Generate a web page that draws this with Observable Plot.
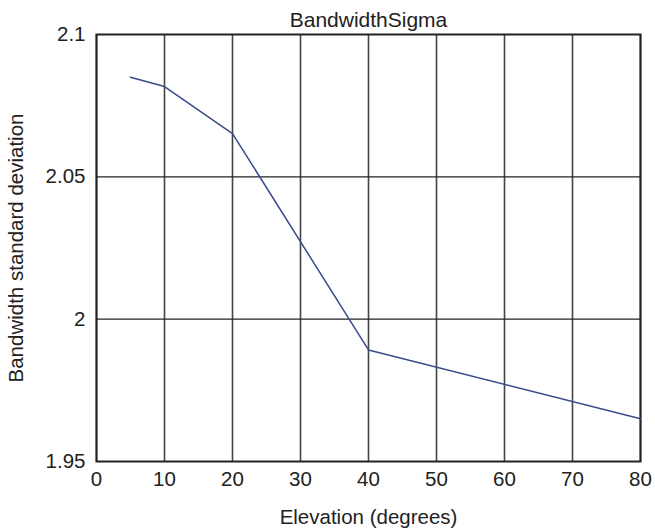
<!DOCTYPE html>
<html>
<head>
<meta charset="utf-8">
<script src="https://cdn.jsdelivr.net/npm/d3@7"></script>
<script src="https://cdn.jsdelivr.net/npm/@observablehq/plot@0.6"></script>
<style>
  html, body { margin: 0; padding: 0; background: #fff; }
</style>
</head>
<body>
<div id="chart"></div>
<script>
const title = "BandwidthSigma";
const xLabel = "Elevation (degrees)";
const yLabel = "Bandwidth standard deviation";
const elevation = [5, 10, 20, 40, 80];
const sigma = [2.085, 2.0817, 2.0652, 1.9892, 1.965];
const xTicks = [0, 10, 20, 30, 40, 50, 60, 70, 80];
const yTicks = [1.95, 2, 2.05, 2.1];
const yTickLabels = ["1.95", "2", "2.05", "2.1"];

const data = elevation.map((e, i) => ({elevation: e, sigma: sigma[i]}));
const yFmt = d => yTickLabels[yTicks.indexOf(d)];

const chart = Plot.plot({
  width: 655,
  height: 532,
  marginLeft: 96,
  marginRight: 15,
  marginTop: 34,
  marginBottom: 71,
  style: {fontFamily: "'Liberation Sans', Arial, sans-serif", fontSize: "21px", color: "#222", background: "#fff"},
  x: {domain: [0, 80]},
  y: {domain: [1.95, 2.1]},
  marks: [
    Plot.gridX(xTicks, {stroke: "#444", strokeOpacity: 1, strokeWidth: 1.6}),
    Plot.gridY(yTicks, {stroke: "#222", strokeOpacity: 1, strokeWidth: 1.2}),
    Plot.frame({stroke: "#222", strokeWidth: 2}),
    Plot.axisX(xTicks, {tickSize: 0, tickPadding: 10, fontSize: 20.5, label: xLabel, labelAnchor: "center", labelArrow: "none", labelOffset: 62}),
    Plot.axisY(yTicks, {tickSize: 0, tickPadding: 11, fontSize: 20.5, tickFormat: yFmt, label: yLabel, labelAnchor: "center", labelArrow: "none", labelOffset: 88}),
    Plot.line(data, {x: "elevation", y: "sigma", stroke: "#3b4a8c", strokeWidth: 1.5}),
    Plot.text([title], {frameAnchor: "top", lineAnchor: "bottom", dy: -8, fontSize: 21, fill: "#222"})
  ]
});
document.getElementById("chart").appendChild(chart);
</script>
</body>
</html>
